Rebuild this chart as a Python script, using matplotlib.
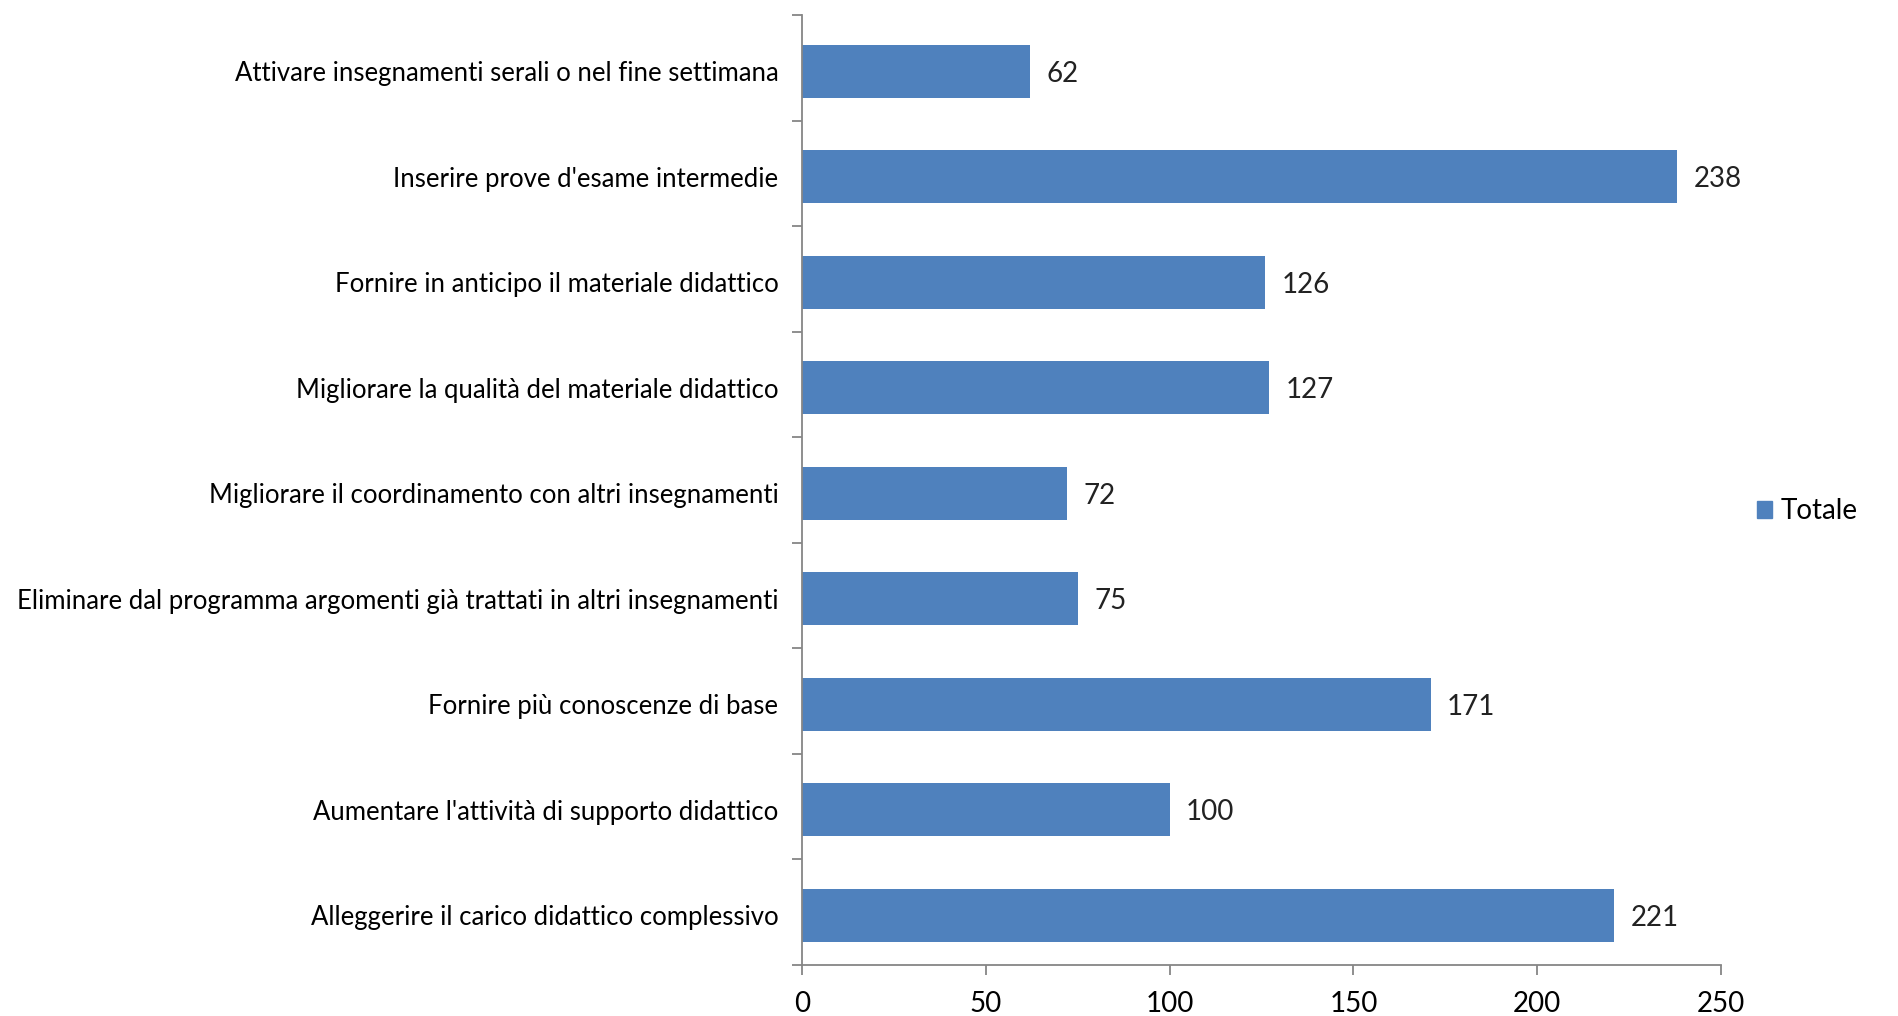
import matplotlib.pyplot as plt
from matplotlib.patches import Patch
import numpy as np

# categories listed bottom to top
categories = [
    "Alleggerire il carico didattico complessivo",
    "Aumentare l'attività di supporto didattico",
    "Fornire più conoscenze di base",
    "Eliminare dal programma argomenti già trattati in altri insegnamenti",
    "Migliorare il coordinamento con altri insegnamenti",
    "Migliorare la qualità del materiale didattico",
    "Fornire in anticipo il materiale didattico",
    "Inserire prove d'esame intermedie",
    "Attivare insegnamenti serali o nel fine settimana",
]
totale = [221, 100, 171, 75, 72, 127, 126, 238, 62]
xticks = [0, 50, 100, 150, 200, 250]

bar_color = '#4F81BD'
axis_color = '#868686'

plt.rcParams['font.family'] = ['Lato', 'DejaVu Sans']

fig = plt.figure(figsize=(18.99, 10.16), dpi=100)
ax = fig.add_axes([0.4223, 0.0502, 0.4840, 0.9348])

y = np.arange(len(categories))
bars = ax.barh(y - 0.03, totale, height=0.5, color=bar_color)

for yi, v in zip(y, totale):
    ax.text(v + 4.5, yi - 0.03, str(v), va='center_baseline', ha='left', fontsize=20, color='#222222')

ax.set_xlim(0, 250)
ax.set_ylim(-0.5, len(categories) - 0.5)
ax.set_xticks(xticks)
ax.set_xticklabels([str(t) for t in xticks], fontsize=20)
ax.set_yticks(y - 0.03)
ax.set_yticklabels(categories, fontsize=18.5)
ax.set_yticks(np.arange(len(categories) + 1) - 0.5, minor=True)

ax.tick_params(axis='y', which='major', length=0, pad=17)
ax.tick_params(axis='y', which='minor', length=7, color=axis_color, width=1.3)
ax.tick_params(axis='x', length=7, color=axis_color, width=1.3, pad=12)

for s in ['top', 'right']:
    ax.spines[s].set_visible(False)
for s in ['left', 'bottom']:
    ax.spines[s].set_color(axis_color)
    ax.spines[s].set_linewidth(1.3)

leg = fig.legend(handles=[Patch(color=bar_color, label='Totale')],
                 loc='center left', bbox_to_anchor=(0.912, 0.497),
                 frameon=False, fontsize=20, handlelength=0.55, handleheight=0.55,
                 handletextpad=0.3)

fig.savefig('out.png', dpi=100)
